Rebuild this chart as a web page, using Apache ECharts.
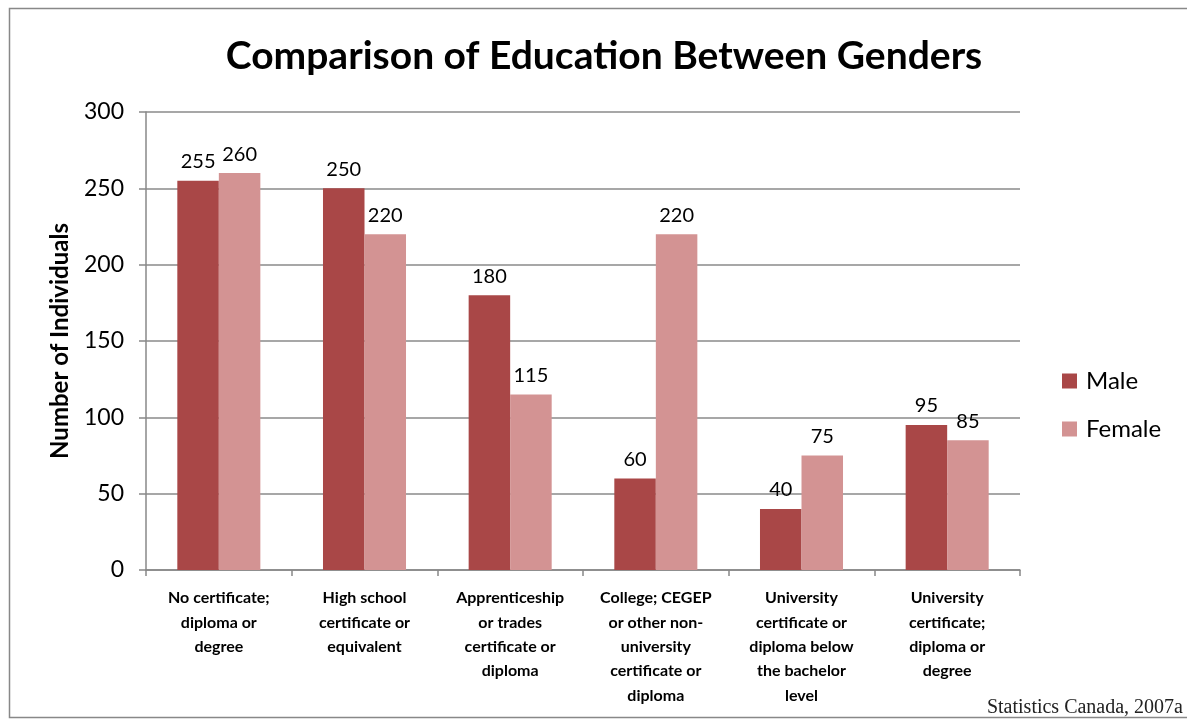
<!DOCTYPE html>
<html>
<head>
<meta charset="utf-8">
<script src="https://cdn.jsdelivr.net/npm/echarts@6/dist/echarts.min.js"></script>
<style>html,body{margin:0;padding:0;background:#fff}#c{width:1187px;height:721px}</style>
</head>
<body>
<div id="c"></div>
<script>
const categories = [
  "No certificate;\ndiploma or\ndegree",
  "High school\ncertificate or\nequivalent",
  "Apprenticeship\nor trades\ncertificate or\ndiploma",
  "College; CEGEP\nor other non-\nuniversity\ncertificate or\ndiploma",
  "University\ncertificate or\ndiploma below\nthe bachelor\nlevel",
  "University\ncertificate;\ndiploma or\ndegree"
];
const maleValues = [255, 250, 180, 60, 40, 95];
const femaleValues = [260, 220, 115, 220, 75, 85];
const yTicks = [0, 50, 100, 150, 200, 250, 300];

const font = 'Lato, "Open Sans", sans-serif';
const chart = echarts.init(document.getElementById('c'), null, {renderer: 'canvas'});
const lblStyle = {show: true, position: 'top', distance: 9, fontSize: 20, color: '#000', fontFamily: font};
chart.setOption({
  animation: false,
  textStyle: {fontFamily: font},
  title: {
    text: 'Comparison of Education Between Genders',
    left: 599, textAlign: 'center', top: 32,
    textStyle: {fontSize: 39, fontWeight: 'bold', color: '#000', fontFamily: font}
  },
  legend: {
    orient: 'vertical', left: 1057, top: 364,
    itemWidth: 15, itemHeight: 15, itemGap: 24,
    icon: 'rect',
    textStyle: {fontSize: 24, color: '#000', fontFamily: font, padding: [0, 0, 0, 4]},
    data: ['Male', 'Female']
  },
  grid: {left: 146, right: 167, top: 112, bottom: 151, containLabel: false},
  xAxis: {
    type: 'category', data: categories,
    axisLine: {lineStyle: {color: '#888', width: 1.5}},
    axisTick: {show: true, length: 6, lineStyle: {color: '#888', width: 1.5}},
    axisLabel: {fontSize: 16, fontWeight: 'bold', color: '#000', lineHeight: 24.3, margin: 16, interval: 0, fontFamily: font}
  },
  yAxis: {
    type: 'value', min: yTicks[0], max: yTicks[yTicks.length - 1], interval: 50,
    name: 'Number of Individuals', nameLocation: 'middle', nameGap: 74,
    nameTextStyle: {fontSize: 24, fontWeight: 'bold', color: '#000', fontFamily: font},
    axisLine: {show: true, lineStyle: {color: '#888', width: 1.5}},
    axisTick: {show: true, length: 7, lineStyle: {color: '#888', width: 1.5}},
    axisLabel: {fontSize: 23, color: '#000', margin: 22, fontFamily: font},
    splitLine: {lineStyle: {color: '#8a8a8a', width: 1.5}}
  },
  series: [
    {name: 'Male', type: 'bar', data: maleValues, barGap: '0%', barCategoryGap: '43%',
     itemStyle: {color: '#A94747'}, label: lblStyle},
    {name: 'Female', type: 'bar', data: femaleValues,
     itemStyle: {color: '#D39393'}, label: lblStyle}
  ],
  graphic: [
    {type: 'rect', shape: {x: 9.5, y: 8.5, width: 1200, height: 709}, style: {fill: 'none', stroke: '#888', lineWidth: 1.5}, z: -1},
    {type: 'text', right: 4, top: 698, style: {text: 'Statistics Canada, 2007a', font: '20px "Liberation Serif", serif', fill: '#222'}}
  ]
});
</script>
</body>
</html>
